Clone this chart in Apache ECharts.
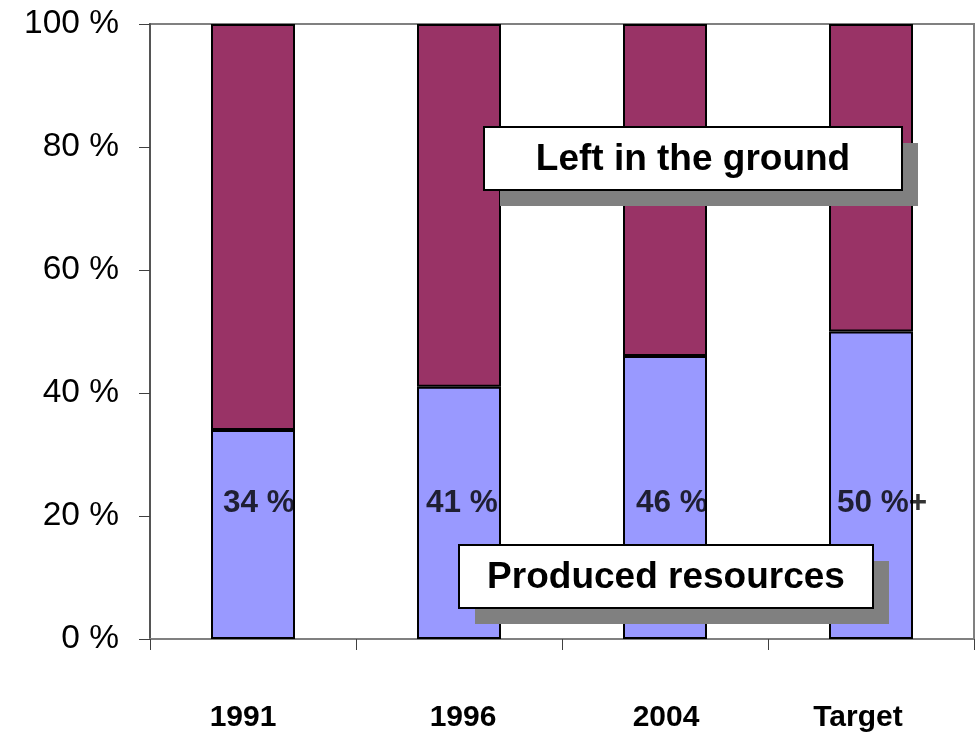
<!DOCTYPE html>
<html>
<head>
<meta charset="utf-8">
<script src="https://cdn.jsdelivr.net/npm/echarts@6/dist/echarts.min.js"></script>
<style>
  html, body { margin: 0; padding: 0; background: #fff; }
  #chart { width: 975px; height: 736px; }
</style>
</head>
<body>
<div id="chart"></div>
<script>
// Share of resources produced vs. left in the ground
const categories = ['1991', '1996', '2004', 'Target'];
const produced = [34, 41, 46, 50];
const leftInGround = [66, 59, 54, 50];
const labelSuffix = ['', '', '', '+'];
const yTicks = [0, 20, 40, 60, 80, 100];

const FONT = '"Liberation Sans", Arial, sans-serif';
const LABEL_LEVEL = 22; // height (in %) at which the value labels sit
// small horizontal nudges of the category labels (px, negative = left)
const xLabelShift = [-10, 4, 1, -13];
const valueLabelShift = [-30, -33, -29, -34];

const chart = echarts.init(document.getElementById('chart'), null, { renderer: 'canvas' });

function calloutBox(x, y, w, h, text, fontSize) {
  return {
    type: 'group',
    z: 100,
    children: [
      { type: 'rect', z: 100, shape: { x: x + 16, y: y + 16, width: w, height: h }, style: { fill: '#808080' } },
      { type: 'rect', z: 101, shape: { x: x, y: y, width: w, height: h }, style: { fill: '#ffffff', stroke: '#000000', lineWidth: 2 } },
      {
        type: 'text', z: 102, x: x + w / 2, y: y + h / 2 + 1.5,
        style: {
          text: text, fill: '#000', fontFamily: FONT, fontWeight: 'bold', fontSize: fontSize,
          align: 'center', verticalAlign: 'middle'
        }
      }
    ]
  };
}

chart.setOption({
  animation: false,
  backgroundColor: '#ffffff',
  grid: {
    left: 150, right: 1, top: 24, bottom: 97,
    show: true, borderColor: '#808080', borderWidth: 2, backgroundColor: 'transparent'
  },
  xAxis: {
    type: 'category',
    data: categories.map((c, i) => ({
      value: c,
      textStyle: {
        padding: xLabelShift[i] < 0 ? [0, -2 * xLabelShift[i], 0, 0] : [0, 0, 0, 2 * xLabelShift[i]]
      }
    })),
    boundaryGap: true,
    axisLine: { lineStyle: { color: '#808080', width: 2 } },
    axisTick: { show: true, alignWithLabel: false, interval: 0, length: 11, inside: false, lineStyle: { color: '#404040', width: 1 } },
    axisLabel: {
      interval: 0, margin: 64, color: '#000',
      fontFamily: FONT, fontWeight: 'bold', fontSize: 30, lineHeight: 30
    }
  },
  yAxis: {
    type: 'value',
    min: 0, max: 100, interval: 20,
    splitLine: { show: false },
    axisLine: { show: true, lineStyle: { color: '#555555', width: 2 } },
    axisTick: { show: true, length: 11, lineStyle: { color: '#404040', width: 1 } },
    axisLabel: {
      margin: 31, color: '#000', fontFamily: FONT, fontSize: 33.5,
      formatter: v => (yTicks.indexOf(v) >= 0 ? v + ' %' : '')
    }
  },
  series: [
    {
      name: 'Produced resources',
      type: 'bar',
      stack: 'total',
      data: produced,
      barWidth: 84,
      itemStyle: { color: '#9999FF', borderColor: '#000', borderWidth: 2 }
    },
    {
      name: 'Left in the ground',
      type: 'bar',
      stack: 'total',
      data: leftInGround,
      barWidth: 84,
      itemStyle: { color: '#993366', borderColor: '#000', borderWidth: 2 }
    },
    {
      // carrier for the value labels inside the lower bar segments
      type: 'scatter',
      symbolSize: 0,
      silent: true,
      z: 10,
      data: categories.map((c, i) => ({
        value: [c, LABEL_LEVEL],
        label: { offset: [valueLabelShift[i], 0] }
      })),
      label: {
        show: true,
        position: 'inside',
        align: 'left',
        color: '#000',
        fontFamily: FONT,
        fontWeight: 'bold',
        fontSize: 31.5,
        formatter: p => produced[p.dataIndex] + ' %' + labelSuffix[p.dataIndex]
      }
    }
  ],
  graphic: [
    calloutBox(484, 127, 418, 63, 'Left in the ground', 37),
    calloutBox(459, 545, 414, 63, 'Produced resources', 37)
  ]
});
</script>
</body>
</html>
